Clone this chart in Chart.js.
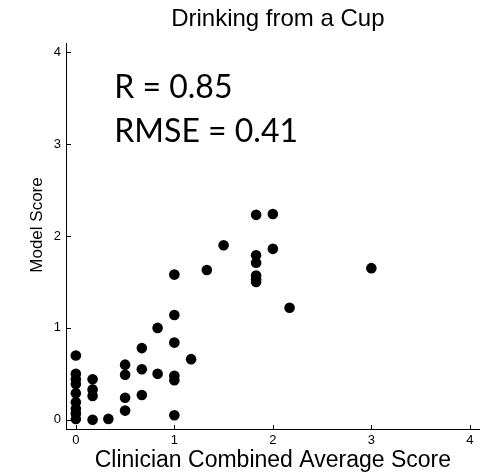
<!DOCTYPE html>
<html>
<head>
<meta charset="utf-8">
<title>Drinking from a Cup</title>
<script src="https://cdn.jsdelivr.net/npm/chart.js@4"></script>
<style>
  html, body { margin: 0; padding: 0; background: #ffffff; }
  #wrap { width: 485px; height: 476px; }
</style>
</head>
<body>
<div id="wrap"><canvas id="chart" width="485" height="476"></canvas></div>
<script>
// Clinician combined average score (x) against model score (y), one entry per trial
const clinicianScore = [
  0, 0, 0, 0, 0, 0, 0, 0, 0,
  0.17, 0.17, 0.17, 0.17,
  0.33,
  0.5, 0.5, 0.5, 0.5,
  0.67, 0.67, 0.67,
  0.83, 0.83,
  1, 1, 1, 1, 1, 1,
  1.17,
  1.33,
  1.5,
  1.83, 1.83, 1.83, 1.83, 1.83, 1.83,
  2, 2,
  2.17,
  3
];
const modelScore = [
  0.70, 0.50, 0.44, 0.39, 0.29, 0.19, 0.12, 0.07, 0.01,
  0.44, 0.33, 0.26, 0.00,
  0.01,
  0.60, 0.49, 0.24, 0.10,
  0.78, 0.55, 0.27,
  1.00, 0.50,
  1.58, 1.14, 0.84, 0.48, 0.43, 0.05,
  0.66,
  1.63,
  1.90,
  2.23, 1.79, 1.71, 1.57, 1.53, 1.50,
  2.24, 1.86,
  1.22,
  1.65
];
const xTickValues = [0, 1, 2, 3, 4];
const yTickValues = [0, 1, 2, 3, 4];
const chartTitle = 'Drinking from a Cup';
const xAxisTitle = 'Clinician Combined Average Score';
const yAxisTitle = 'Model Score';
const statLines = ['R = 0.85', 'RMSE = 0.41'];

const AXIS_FONT = '"Liberation Sans", Arial, Helvetica, sans-serif';
const STAT_FONT = 'Lato, "Open Sans", sans-serif';

// Short inward tick marks, the title, the rotated y label and the statistics text
const decorations = {
  id: 'decorations',
  beforeDatasetsDraw(chart) {
    const {ctx, scales: {x, y}, chartArea} = chart;
    ctx.save();
    ctx.strokeStyle = '#000000';
    ctx.lineWidth = 1;
    ctx.beginPath();
    x.ticks.forEach(t => {
      const px = Math.round(x.getPixelForValue(t.value)) + 0.5;
      ctx.moveTo(px, chartArea.bottom);
      ctx.lineTo(px, chartArea.bottom - 4);
    });
    y.ticks.forEach(t => {
      const py = Math.round(y.getPixelForValue(t.value)) + 0.5;
      ctx.moveTo(chartArea.left, py);
      ctx.lineTo(chartArea.left + 5, py);
    });
    ctx.stroke();

    ctx.fillStyle = '#000000';
    ctx.textAlign = 'center';
    ctx.textBaseline = 'middle';

    // chart title, centred over the plot area
    ctx.font = '24px ' + AXIS_FONT;
    ctx.fillText(chartTitle, (chartArea.left + chartArea.right) / 2 + 5, 19);

    // y axis label
    ctx.font = '17px ' + AXIS_FONT;
    ctx.translate(37, (chartArea.top + chartArea.bottom) / 2 - 11);
    ctx.rotate(-Math.PI / 2);
    ctx.fillText(yAxisTitle, 0, 0);
    ctx.restore();
  },
  afterDatasetsDraw(chart) {
    const {ctx, scales: {x, y}} = chart;
    ctx.save();
    ctx.fillStyle = '#000000';
    ctx.font = '32px ' + STAT_FONT;
    ctx.textAlign = 'left';
    ctx.textBaseline = 'alphabetic';
    const left = x.getPixelForValue(0.39);
    ctx.fillText(statLines[0], left, y.getPixelForValue(3.5));
    ctx.fillText(statLines[1], left, y.getPixelForValue(3.02));
    ctx.restore();
  }
};

new Chart(document.getElementById('chart'), {
  type: 'scatter',
  data: {
    datasets: [{
      data: clinicianScore.map((v, i) => ({x: v, y: modelScore[i]})),
      backgroundColor: '#000000',
      borderWidth: 0,
      pointRadius: 5.3,
      pointHoverRadius: 5.3
    }]
  },
  options: {
    responsive: false,
    devicePixelRatio: 1,
    animation: false,
    layout: { padding: { top: 43, right: 2, bottom: 0, left: 0 } },
    plugins: {
      legend: { display: false },
      tooltip: { enabled: false },
      title: { display: false }
    },
    scales: {
      x: {
        type: 'linear',
        min: -0.1,
        max: 4.1,
        afterBuildTicks: s => { s.ticks = xTickValues.map(v => ({value: v})); },
        afterFit: s => { s.height = 47; },
        grid: { display: false, drawTicks: false },
        border: { display: true, color: '#000000', width: 1 },
        ticks: {
          color: '#000000',
          padding: 4,
          font: { family: AXIS_FONT, size: 13 },
          callback: v => String(v)
        },
        title: {
          display: true,
          text: xAxisTitle,
          color: '#000000',
          font: { family: AXIS_FONT, size: 23, weight: 'normal' },
          padding: { top: 0, bottom: 2 }
        }
      },
      y: {
        type: 'linear',
        min: -0.1,
        max: 4.1,
        afterBuildTicks: s => { s.ticks = yTickValues.map(v => ({value: v})); },
        afterFit: s => { s.width = 66; },
        grid: { display: false, drawTicks: false },
        border: { display: true, color: '#000000', width: 1 },
        ticks: {
          color: '#000000',
          padding: 5,
          font: { family: AXIS_FONT, size: 13 },
          callback: v => String(v)
        }
      }
    }
  },
  plugins: [decorations]
});
</script>
</body>
</html>
